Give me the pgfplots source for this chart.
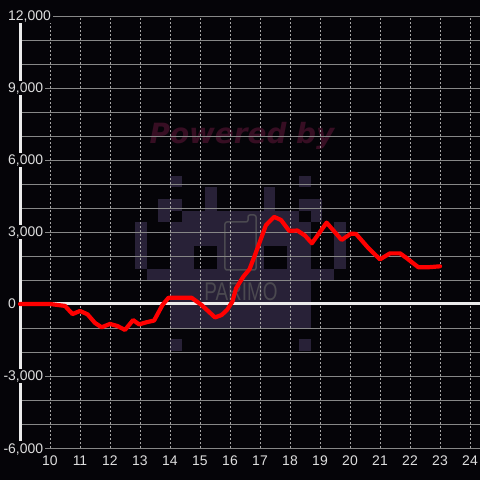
\documentclass[border=0pt]{standalone}
\usepackage{fontspec}
\setmainfont{Liberation Sans}
\newfontfamily\wmfont{DejaVu Sans}
\usepackage{graphicx}
\usepackage{pgfplots}
\pgfplotsset{compat=1.18}
\definecolor{bg}{RGB}{5,4,8}
\definecolor{lbl}{RGB}{222,222,222}
\definecolor{hgrid}{RGB}{135,135,135}
\definecolor{vgrid}{RGB}{165,165,165}
\definecolor{logo}{RGB}{40,33,55}
\definecolor{wm}{RGB}{55,14,35}
\definecolor{phone}{RGB}{75,73,80}
\definecolor{zero}{RGB}{235,235,235}
\pagecolor{bg}
\newcommand\blk[4]{\fill[logo] (axis cs:{12.8333+0.39*#1},{5346-487.5*#3}) rectangle (axis cs:{12.8333+0.39*(#2+1)},{5346-487.5*(#4+1)});}
\begin{document}
\begin{tikzpicture}
\begin{axis}[
  set layers,
  at={(20bp,32bp)}, anchor=south west,
  scale only axis, width=460bp, height=432bp,
  xmin=9, xmax=24.3333, ymin=-6000, ymax=12000,
  axis y line*=left, axis x line*=bottom,
  x axis line style={draw=none},
  y axis line style={draw=zero, line width=3bp},
  xtick={10,...,24},
  ytick={-6000,-3000,0,3000,6000,9000,12000},
  yticklabels={{\llap{-}6,000},{\llap{-}3,000},0,{3,000},{6,000},{9,000},{12,000}},
  scaled y ticks=false, scaled x ticks=false,
  minor y tick num=2,
  major tick length=0pt, minor tick length=0pt,
  xmajorgrids, ymajorgrids, yminorgrids,
  x grid style={draw=vgrid, line width=0.8bp, dash pattern=on 2bp off 2bp},
  y grid style={draw=hgrid, line width=0.9bp},
  extra y ticks={0}, extra y tick labels={},
  extra y tick style={grid=major, y grid style={draw=zero, line width=3bp, solid}, yticklabel style={fill=none}},
  tick label style={font=\fontsize{14}{16}\selectfont, text=lbl},
  /pgf/number format/assume math mode=true,
  xticklabel style={anchor=north, yshift=-5.5bp, text height=10bp, text depth=0bp, inner sep=2bp},
  yticklabel style={anchor=west, xshift=-14bp, fill=bg, inner sep=2bp, text height=10bp, text depth=0bp},
  clip=false,
]
\begin{pgfonlayer}{axis background}
\blk{3}{3}{0}{0}
\blk{14}{14}{0}{0}
\blk{6}{6}{1}{2}
\blk{11}{11}{1}{2}
\blk{2}{3}{2}{2}
\blk{14}{15}{2}{2}
\blk{2}{2}{3}{3}
\blk{15}{15}{3}{3}
\blk{4}{13}{3}{3}
\blk{3}{14}{4}{5}
\blk{0}{0}{4}{7}
\blk{17}{17}{4}{7}
\blk{3}{4}{6}{7}
\blk{7}{10}{6}{7}
\blk{13}{14}{6}{7}
\blk{1}{16}{8}{8}
\blk{3}{14}{9}{12}
\blk{3}{3}{14}{14}
\blk{14}{14}{14}{14}
\draw[phone, line width=1.5bp, rounded corners=2bp] (axis cs:15.833,1416.7) -- (axis cs:15.833,3416.7) -- (axis cs:16.6,3416.7) -- (axis cs:16.6,3708.3) -- (axis cs:16.867,3708.3) -- (axis cs:16.867,1416.7) -- cycle;
\node[text=phone, font=\fontsize{19}{19}\selectfont] at (axis cs:16.367,500) {\scalebox{1}[1.35]{PARIMO}};
\node[text=wm, anchor=base, font=\wmfont\bfseries\itshape\fontsize{28}{30}\selectfont] at (axis cs:16.4,6667) {Powered by};
\end{pgfonlayer}
\addplot[red, line width=4.2bp, line join=round, line cap=round] coordinates {
(9,0) (10,0) (10.5,-80) (10.75,-420) (11,-290) (11.25,-430) (11.5,-790)
(11.72,-970) (12,-830) (12.25,-920) (12.5,-1080) (12.77,-670) (12.97,-850)
(13.22,-760) (13.47,-690) (13.75,-40) (13.95,260) (14.72,260) (15.05,-40)
(15.5,-560) (15.72,-460) (15.9,-250) (16.08,100) (16.2,650) (16.45,1150)
(16.65,1450) (16.85,2100) (17.2,3290) (17.47,3630) (17.7,3500) (17.97,3050)
(18.25,3060) (18.5,2850) (18.73,2530) (19.22,3390) (19.72,2670) (20.03,2930)
(20.2,2920) (20.62,2320) (21.0,1860) (21.33,2110) (21.67,2110) (21.9,1900)
(22.28,1530) (22.6,1530) (23.0,1570)
};
\end{axis}
\pgfresetboundingbox
\path[use as bounding box] (0,0) rectangle (480bp,480bp);
\end{tikzpicture}
\end{document}
